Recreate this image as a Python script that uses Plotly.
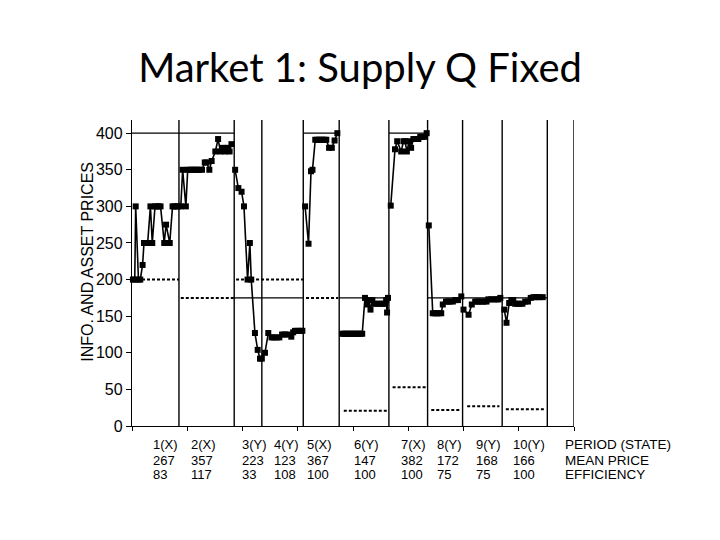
import plotly.graph_objects as go

# period boundaries (seconds of trading) and labels
BOUNDS = [0, 51, 111, 141, 186, 225, 279, 321, 359, 402, 451, 480]
PERIOD_LABELS = ["1(X)", "2(X)", "3(Y)", "4(Y)", "5(X)", "6(Y)", "7(X)", "8(Y)", "9(Y)", "10(Y)"]
MEAN_PRICE = ["267", "357", "223", "123", "367", "147", "382", "172", "168", "166"]
EFFICIENCY = ["83", "117", "33", "108", "100", "100", "100", "75", "75", "100"]
LABEL_X = [21, 62, 117, 152, 188, 239, 290, 329, 371, 412]
ROW_NAMES = ["PERIOD (STATE)", "MEAN PRICE", "EFFICIENCY"]

# solid line: equilibrium price per period span
SOLID_SPANS = [(0, 111), (111, 141), (141, 186), (186, 225), (225, 279), (279, 321), (321, 359), (359, 402), (402, 451)]
SOLID_LEVELS = [400, 175, 175, 400, 175, 400, 175, 175, 175]

# dashed line: prior information price per period span
DASH_SPANS = [(0, 51), (53, 111), (113, 186), (189, 224), (230, 277), (283, 320), (325, 357), (364, 399), (406, 449)]
DASH_LEVELS = [200, 175, 200, 175, 21, 53, 22, 27, 23]

# transaction prices per period (time s, price)
TRADES_T = [
    [1, 3, 4, 7, 9, 11.5, 13, 15, 17, 20, 22, 25, 27, 29, 31, 35, 37, 41, 44, 46, 48, 50],
    [53, 55, 58.5, 60.5, 63, 65, 67, 69, 71, 73, 76, 79, 81, 84, 86.5, 90.5, 93.5, 96, 98.5, 101, 104, 106, 108],
    [112, 115.5, 119, 121.6, 125.5, 128, 129.5, 133.5, 136.5, 139, 141,
     144.4, 148, 151.5, 154, 157, 160, 163, 166, 169, 173, 175, 177, 180, 183, 185],
    [188, 191.7, 194.4, 196, 199, 201, 203, 205, 207, 209, 211, 214, 217, 220, 223],
    [228, 230, 232, 234, 236, 238, 240, 242, 244, 246, 248, 250, 253, 255.5, 257, 259, 261,
     263, 266, 269, 272, 274, 276, 277, 278],
    [281, 285.6, 288, 292.3, 294.8, 296.5, 298.5, 301, 303.1, 305.6, 308, 311, 313, 315, 317.5, 320],
    [322.3, 326.6, 329, 331, 333, 335.8, 337.5, 341, 343, 345, 348.4, 351, 354, 357.6],
    [360, 365.5, 369, 372.7, 375, 377, 380, 382, 385, 387, 390, 393, 396, 398, 400],
    [404.3, 406.7, 409.6, 412, 414, 416, 418.5, 421, 424, 427, 430, 433, 436, 439, 442, 446],
]
TRADES_P = [
    [200, 200, 300, 200, 200, 220, 250, 250, 250, 300, 250, 300, 300, 300, 300, 250, 275, 250, 300, 300, 300, 300],
    [300, 350, 300, 350, 350, 350, 350, 350, 350, 350, 350, 360, 360, 350, 362, 375, 392, 375, 380, 375, 380, 375, 385],
    [350, 325, 320, 300, 200, 250, 200, 127, 104, 92, 92,
     100, 127, 121, 121, 121, 121, 125, 125, 125, 122, 128, 130, 130, 130, 130],
    [300, 249, 348, 350, 391, 391, 391, 391, 391, 391, 391, 380, 380, 390, 400],
    [126, 126, 126, 126, 126, 126, 126, 126, 126, 126, 126, 126, 175, 166, 172, 159, 172,
     167, 167, 167, 167, 167, 172, 155, 175],
    [301, 378, 389, 375, 389, 389, 375, 389, 380, 392, 392, 392, 395, 395, 395, 400],
    [274, 154, 154, 154, 154, 154, 166, 170, 170, 170, 170, 172, 172, 177],
    [159, 152, 166, 170, 170, 170, 170, 170, 170, 173, 173, 173, 173, 173, 175],
    [159, 141, 168, 172, 172, 167, 167, 167, 167, 170, 170, 175, 176, 176, 176, 176],
]

FONT = "Liberation Sans, Arial, sans-serif"

fig = go.Figure()

for (x0, x1), lvl in zip(SOLID_SPANS, SOLID_LEVELS):
    fig.add_trace(go.Scatter(x=[x0, x1], y=[lvl, lvl], mode="lines",
                             line=dict(color="black", width=1.3), hoverinfo="skip"))

for (x0, x1), lvl in zip(DASH_SPANS, DASH_LEVELS):
    fig.add_trace(go.Scatter(x=[x0, x1], y=[lvl, lvl], mode="lines",
                             line=dict(color="black", width=2, dash="3px,2px"), hoverinfo="skip"))

for t, p in zip(TRADES_T, TRADES_P):
    fig.add_trace(go.Scatter(x=t, y=p, mode="lines+markers",
                             line=dict(color="black", width=1.6),
                             marker=dict(symbol="square", size=6, color="black"),
                             cliponaxis=False))

for b in BOUNDS[1:]:
    fig.add_shape(type="line", xref="x", yref="paper", x0=b, x1=b, y0=0, y1=1,
                  line=dict(color="black", width=1.4))

rows_y = [-0.062, -0.113, -0.158]
for lx, a, b, c in zip(LABEL_X, PERIOD_LABELS, MEAN_PRICE, EFFICIENCY):
    for txt, yy in zip([a, b, c], rows_y):
        fig.add_annotation(x=lx, y=yy, xref="x", yref="paper", text=txt, showarrow=False,
                           xanchor="left", yanchor="middle",
                           font=dict(family=FONT, size=13, color="black"))
for txt, yy in zip(ROW_NAMES, rows_y):
    fig.add_annotation(x=468, y=yy, xref="x", yref="paper", text=txt, showarrow=False,
                       xanchor="left", yanchor="middle",
                       font=dict(family=FONT, size=13.5, color="black"))

fig.add_annotation(x=-0.1, y=0.536, xref="paper", yref="paper", text="INFO. AND ASSET PRICES",
                   textangle=-90, showarrow=False, xanchor="center", yanchor="middle",
                   font=dict(family=FONT, size=16, color="black"))

# page body adds an 8px offset, so margins are shifted to compensate
fig.update_layout(
    width=720, height=540,
    margin=dict(l=124, r=154, t=112, b=122),
    paper_bgcolor="white", plot_bgcolor="white",
    showlegend=False,
    title=dict(text="Market 1: Supply Q Fixed", x=0.489, xanchor="center", y=0.889, yanchor="middle",
               font=dict(family="Lato, Calibri, sans-serif", size=40, color="black")),
    xaxis=dict(range=[0, 480], showgrid=False, zeroline=False, showline=True, linecolor="black",
               linewidth=1.4, ticks="outside", tickcolor="black", ticklen=4, dtick=60, tick0=0,
               showticklabels=False),
    yaxis=dict(range=[0, 418], showgrid=False, zeroline=False, showline=True, linecolor="black",
               linewidth=1.4, ticks="outside", tickcolor="black", ticklen=5, dtick=50, tick0=0,
               tickfont=dict(family=FONT, size=16, color="black")),
)

fig.write_html("out.html")
